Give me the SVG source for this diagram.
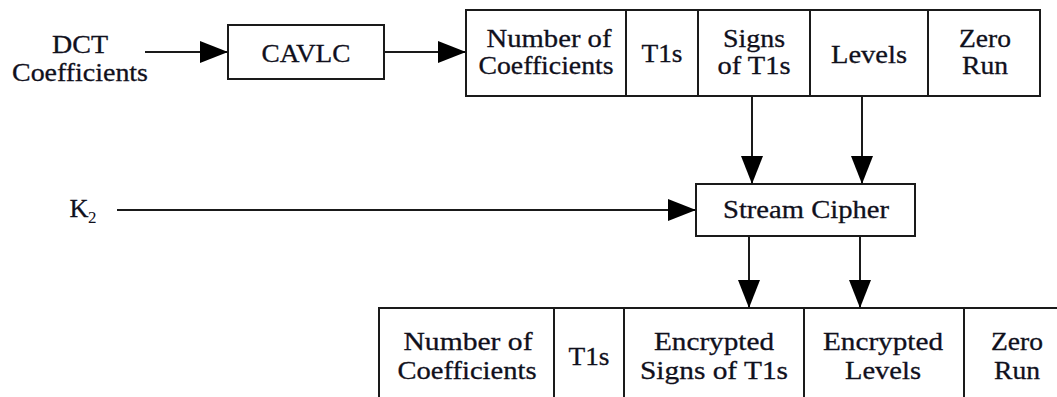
<svg xmlns="http://www.w3.org/2000/svg" width="1057" height="397" viewBox="0 0 1057 397">
<style>
.box{fill:#fff;stroke:#1a1a1a;stroke-width:2}
.ln{fill:none;stroke:#1a1a1a;stroke-width:2}
.t{font-family:"Liberation Serif","Times New Roman",serif;font-size:25px;fill:#10101c;stroke:#10101c;stroke-width:0.3;text-anchor:middle}
.sub{font-family:"Liberation Serif","Times New Roman",serif;font-size:17px;fill:#10101c}
</style>
<defs>
<marker id="ah" viewBox="0 0 28 22" refX="28" refY="11" markerWidth="28" markerHeight="22" markerUnits="userSpaceOnUse" orient="auto">
<path d="M0,0 L28,11 L0,22 z" fill="#000"/>
</marker>
</defs>
<rect width="1057" height="397" fill="#fff"/>

<g id="dct-input">
<text class="t" x="80" y="53" textLength="56" lengthAdjust="spacingAndGlyphs">DCT</text>
<text class="t" x="80" y="81" textLength="136" lengthAdjust="spacingAndGlyphs">Coefficients</text>
</g>

<g id="cavlc">
<rect class="box" x="228" y="25" width="156" height="54"/>
<text class="t" x="306" y="62" textLength="89" lengthAdjust="spacingAndGlyphs">CAVLC</text>
</g>

<g id="top-row">
<rect class="box" x="466" y="10" width="574" height="86"/>
<path class="ln" d="M626,10V96M698,10V96M810,10V96M928,10V96"/>
<text class="t" x="549" y="47" textLength="125" lengthAdjust="spacingAndGlyphs">Number of</text>
<text class="t" x="546" y="74" textLength="135" lengthAdjust="spacingAndGlyphs">Coefficients</text>
<text class="t" x="662" y="62" textLength="41" lengthAdjust="spacingAndGlyphs">T1s</text>
<text class="t" x="754" y="47" textLength="62" lengthAdjust="spacingAndGlyphs">Signs</text>
<text class="t" x="754" y="74" textLength="73" lengthAdjust="spacingAndGlyphs">of T1s</text>
<text class="t" x="869" y="63" textLength="76" lengthAdjust="spacingAndGlyphs">Levels</text>
<text class="t" x="985" y="47" textLength="52" lengthAdjust="spacingAndGlyphs">Zero</text>
<text class="t" x="985" y="74" textLength="46" lengthAdjust="spacingAndGlyphs">Run</text>
</g>

<g id="k2">
<text class="t" x="79" y="217" textLength="19" lengthAdjust="spacingAndGlyphs">K</text>
<text class="sub" x="88" y="223">2</text>
</g>

<g id="stream-cipher">
<rect class="box" x="696" y="184" width="219" height="52"/>
<text class="t" x="806" y="218" textLength="166" lengthAdjust="spacingAndGlyphs">Stream Cipher</text>
</g>

<g id="bottom-row">
<path class="ln" d="M379,397V308H1060M554,308V397M624,308V397M804,308V397M964,308V397"/>
<text class="t" x="468" y="350" textLength="129" lengthAdjust="spacingAndGlyphs">Number of</text>
<text class="t" x="467" y="379" textLength="139" lengthAdjust="spacingAndGlyphs">Coefficients</text>
<text class="t" x="589" y="365" textLength="41" lengthAdjust="spacingAndGlyphs">T1s</text>
<text class="t" x="714" y="350" textLength="120" lengthAdjust="spacingAndGlyphs">Encrypted</text>
<text class="t" x="714" y="379" textLength="148" lengthAdjust="spacingAndGlyphs">Signs of T1s</text>
<text class="t" x="883" y="350" textLength="120" lengthAdjust="spacingAndGlyphs">Encrypted</text>
<text class="t" x="883" y="379" textLength="76" lengthAdjust="spacingAndGlyphs">Levels</text>
<text class="t" x="1017" y="350" textLength="52" lengthAdjust="spacingAndGlyphs">Zero</text>
<text class="t" x="1017" y="379" textLength="46" lengthAdjust="spacingAndGlyphs">Run</text>
</g>

<g id="connectors">
<path class="ln" d="M145,52H228" marker-end="url(#ah)"/>
<path class="ln" d="M384,52H466" marker-end="url(#ah)"/>
<path class="ln" d="M752,96V184" marker-end="url(#ah)"/>
<path class="ln" d="M862,96V184" marker-end="url(#ah)"/>
<path class="ln" d="M117,210H696" marker-end="url(#ah)"/>
<path class="ln" d="M749,236V308" marker-end="url(#ah)"/>
<path class="ln" d="M860,236V308" marker-end="url(#ah)"/>
</g>
</svg>
